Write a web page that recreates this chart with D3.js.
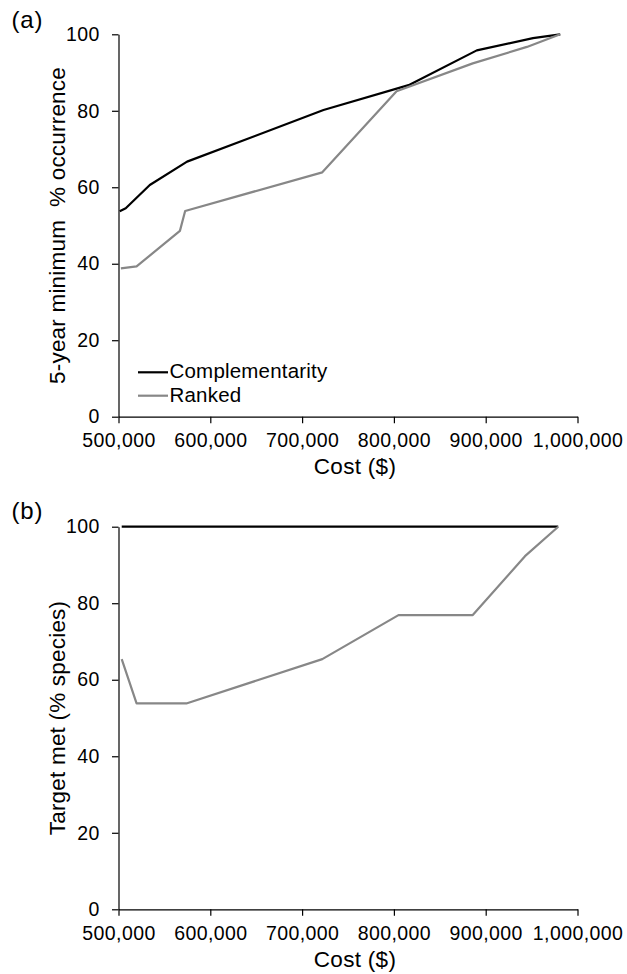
<!DOCTYPE html>
<html>
<head>
<meta charset="utf-8">
<script src="https://cdn.jsdelivr.net/npm/d3@7"></script>
<style>
  html, body { margin: 0; padding: 0; background: #fff; }
  svg { display: block; font-family: "Liberation Sans", Arial, sans-serif; }
</style>
</head>
<body>
<svg id="chart" width="627" height="974"></svg>
<script>
// Panel (a): 5-year minimum % occurrence versus cost
const costA_comp = [501300, 507900, 534100, 574700, 723300, 816000, 890300, 951500, 981200];
const occA_comp  = [53.7, 54.5, 60.6, 66.7, 80.2, 86.7, 95.8, 99.0, 100];
const costA_rank = [502600, 519700, 566900, 572600, 722000, 802900, 885900, 944900, 981200];
const occA_rank  = [38.8, 39.3, 48.6, 53.8, 63.9, 85.1, 92.4, 96.7, 100];

// Panel (b): target met (% species) versus cost
const costB_comp = [503500, 979000];
const tgtB_comp  = [100, 100];
const costB_rank = [503500, 519700, 573900, 722000, 805000, 885900, 942800, 979000];
const tgtB_rank  = [65.4, 53.8, 53.8, 65.4, 76.9, 76.9, 92.3, 100];

const seriesNames  = ["Complementarity", "Ranked"];
const seriesColors = ["#000000", "#878787"];
const xTicks = [500000, 600000, 700000, 800000, 900000, 1000000];
const yTicks = [0, 20, 40, 60, 80, 100];

const svg = d3.select("#chart");
const x = d3.scaleLinear().domain([500000, 1000000]).range([118.5, 577.5]);

function panel(cfg) {
  const y = d3.scaleLinear().domain([0, 100]).range([cfg.y0, cfg.y100]);
  const g = svg.append("g");

  // axes
  const xAxis = d3.axisBottom(x).tickValues(xTicks).tickFormat(d3.format(","))
    .tickSize(6.5).tickSizeOuter(0).tickPadding(10);
  const gx = g.append("g").attr("transform", `translate(0,${cfg.y0})`).call(xAxis);
  const yAxis = d3.axisLeft(y).tickValues(yTicks).tickSize(6.5).tickSizeOuter(0).tickPadding(12.2);
  const gy = g.append("g").attr("transform", `translate(${x.range()[0]},0)`).call(yAxis);
  [gx, gy].forEach(a => {
    a.select(".domain").attr("stroke", "#000").attr("stroke-width", 1.2);
    a.selectAll(".tick line").attr("stroke", "#000").attr("stroke-width", 1.2);
    a.selectAll(".tick text").attr("fill", "#000").attr("font-size", 19.5)
      .attr("letter-spacing", 0.4)
      .attr("font-family", '"Liberation Sans", Arial, sans-serif');
  });

  // series lines
  const line = d3.line().x(d => x(d[0])).y(d => y(d[1]));
  cfg.series.forEach((s, i) => {
    const pts = s.cost.map((c, j) => [c, s.val[j]]);
    g.append("path").datum(pts).attr("d", line)
      .attr("fill", "none").attr("stroke", seriesColors[i])
      .attr("stroke-width", 2.2).attr("stroke-linejoin", "round");
  });

  // x title
  g.append("text").attr("x", 355).attr("y", cfg.y0 + 57.5)
    .attr("text-anchor", "middle").attr("font-size", 22.5).attr("letter-spacing", 0.3)
    .text("Cost ($)");

  // y title
  const yc = (cfg.y0 + cfg.y100) / 2;
  g.append("text").attr("transform", `translate(64.5,${yc}) rotate(-90)`)
    .attr("text-anchor", "middle").attr("font-size", 22.5).attr("letter-spacing", 0.2)
    .attr("xml:space", "preserve")
    .text(cfg.ytitle);

  // panel letter
  g.append("text").attr("x", 11.5).attr("y", cfg.letterY)
    .attr("font-size", 24).attr("letter-spacing", 0.8).text(cfg.letter);

  return { g, y };
}

const pa = panel({
  y0: 416.7, y100: 34.3, letter: "(a)", letterY: 28.3,
  ytitle: "5-year minimum  % occurrence",
  series: [{ cost: costA_comp, val: occA_comp }, { cost: costA_rank, val: occA_rank }]
});

panel({
  y0: 909.3, y100: 526.7, letter: "(b)", letterY: 518.5,
  ytitle: "Target met (% species)",
  series: [{ cost: costB_comp, val: tgtB_comp }, { cost: costB_rank, val: tgtB_rank }]
});

// legend in panel (a)
const legend = pa.g.append("g").attr("transform", "translate(138,378.3)");
seriesNames.forEach((name, i) => {
  const row = legend.append("g").attr("transform", `translate(0,${i * 23.4})`);
  row.append("line").attr("x1", 0).attr("x2", 30).attr("y1", -6).attr("y2", -6)
    .attr("stroke", seriesColors[i]).attr("stroke-width", 2.2);
  row.append("text").attr("x", 31.5).attr("y", 0).attr("font-size", 20.5)
    .attr("letter-spacing", 0.2).text(name);
});
</script>
</body>
</html>
